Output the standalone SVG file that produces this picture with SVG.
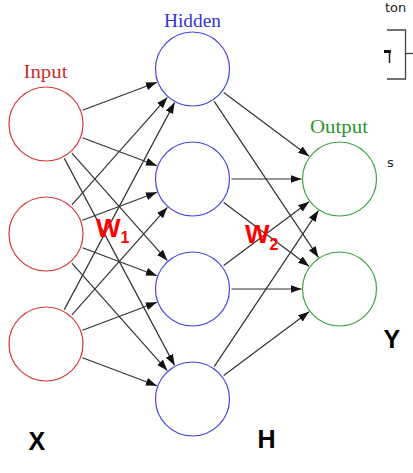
<svg xmlns="http://www.w3.org/2000/svg" width="413" height="473" viewBox="0 0 413 473">
<style>
.in{fill:#fff;stroke:#d9393c;stroke-width:1.2}
.hid{fill:#fff;stroke:#4646e6;stroke-width:1.2}
.out{fill:#fff;stroke:#3fa43f;stroke-width:1.2}
.lbl{font-family:"Liberation Serif","DejaVu Serif",serif;font-size:19px;text-anchor:middle}
.big{font-family:"Liberation Sans",Arial,sans-serif;font-weight:bold;font-size:25px}
.w{font-family:"Liberation Sans",Arial,sans-serif;font-weight:bold;font-size:26px;fill:#f00}
.sub{font-size:16px}
.edge line{stroke:#333;stroke-width:1.2;marker-end:url(#ah)}
.misc{font-family:"DejaVu Sans",sans-serif;font-size:13px;fill:#222}
</style>
<defs>
<marker id="ah" markerUnits="userSpaceOnUse" markerWidth="12" markerHeight="8" refX="11" refY="4" orient="auto">
<path d="M0,0 L11,4 L0,8 z" fill="#111"/>
</marker>
</defs>
<g id="connectors" class="edge">
<line x1="82.5" y1="110.3" x2="156.9" y2="82.3"/>
<line x1="82.5" y1="137.7" x2="156.9" y2="165.7"/>
<line x1="71.9" y1="153.2" x2="167.3" y2="260.6"/>
<line x1="64.3" y1="158.4" x2="174.6" y2="365.4"/>
<line x1="71.9" y1="204.8" x2="167.3" y2="97.4"/>
<line x1="82.5" y1="220.3" x2="156.9" y2="192.3"/>
<line x1="82.5" y1="247.7" x2="156.9" y2="275.7"/>
<line x1="71.9" y1="263.2" x2="167.3" y2="370.6"/>
<line x1="64.3" y1="309.6" x2="174.6" y2="102.6"/>
<line x1="71.9" y1="314.8" x2="167.3" y2="207.4"/>
<line x1="82.5" y1="330.3" x2="156.9" y2="302.3"/>
<line x1="82.5" y1="357.7" x2="156.9" y2="385.7"/>
<line x1="223.7" y1="92.4" x2="309.1" y2="156.2"/>
<line x1="214.2" y1="101.4" x2="318.4" y2="257.4"/>
<line x1="231.5" y1="179" x2="301.5" y2="179"/>
<line x1="223.7" y1="202.4" x2="309.1" y2="266.2"/>
<line x1="223.7" y1="265.6" x2="309.1" y2="201.8"/>
<line x1="231.5" y1="289" x2="301.5" y2="289"/>
<line x1="214.2" y1="366.6" x2="318.4" y2="210.6"/>
<line x1="223.7" y1="375.6" x2="309.1" y2="311.8"/>
</g>
<g id="input1"><circle class="in" cx="46" cy="124" r="37"/></g>
<g id="input2"><circle class="in" cx="46" cy="234" r="37"/></g>
<g id="input3"><circle class="in" cx="46" cy="344" r="37"/></g>
<g id="hidden1"><circle class="hid" cx="192.5" cy="69" r="37"/></g>
<g id="hidden2"><circle class="hid" cx="192.5" cy="179" r="37"/></g>
<g id="hidden3"><circle class="hid" cx="192.5" cy="289" r="37"/></g>
<g id="hidden4"><circle class="hid" cx="192.5" cy="399" r="37"/></g>
<g id="output1"><circle class="out" cx="339.5" cy="179" r="37"/></g>
<g id="output2"><circle class="out" cx="339.5" cy="289" r="37"/></g>
<g id="labels">
<text class="lbl" x="45.5" y="77.5" fill="#c8302f" textLength="44" lengthAdjust="spacingAndGlyphs">Input</text>
<text class="lbl" x="192.5" y="27" fill="#3434d8" textLength="57" lengthAdjust="spacingAndGlyphs">Hidden</text>
<text class="lbl" x="339" y="133" fill="#2c962c" textLength="58" lengthAdjust="spacingAndGlyphs">Output</text>
<text class="w" x="96" y="237">W<tspan class="sub" dy="6">1</tspan></text>
<text class="w" x="245" y="243">W<tspan class="sub" dy="7">2</tspan></text>
<text class="big" x="28.5" y="450">X</text>
<text class="big" x="257.5" y="448">H</text>
<text class="big" x="383.5" y="348">Y</text>
</g>
<g id="fragments">
<text class="misc" x="385" y="11.5">ton</text>
<polyline points="387,30 405.5,30 405.5,79 387,79" fill="none" stroke="#444" stroke-width="1.3"/>
<line x1="405.5" y1="53.5" x2="413" y2="53.5" stroke="#444" stroke-width="1.3"/>
<rect x="384" y="50" width="7" height="3" fill="#111"/>
<line x1="389.5" y1="50" x2="389.5" y2="63" stroke="#222" stroke-width="1.5"/>
<text class="misc" x="387" y="167">s</text>
</g>
</svg>
